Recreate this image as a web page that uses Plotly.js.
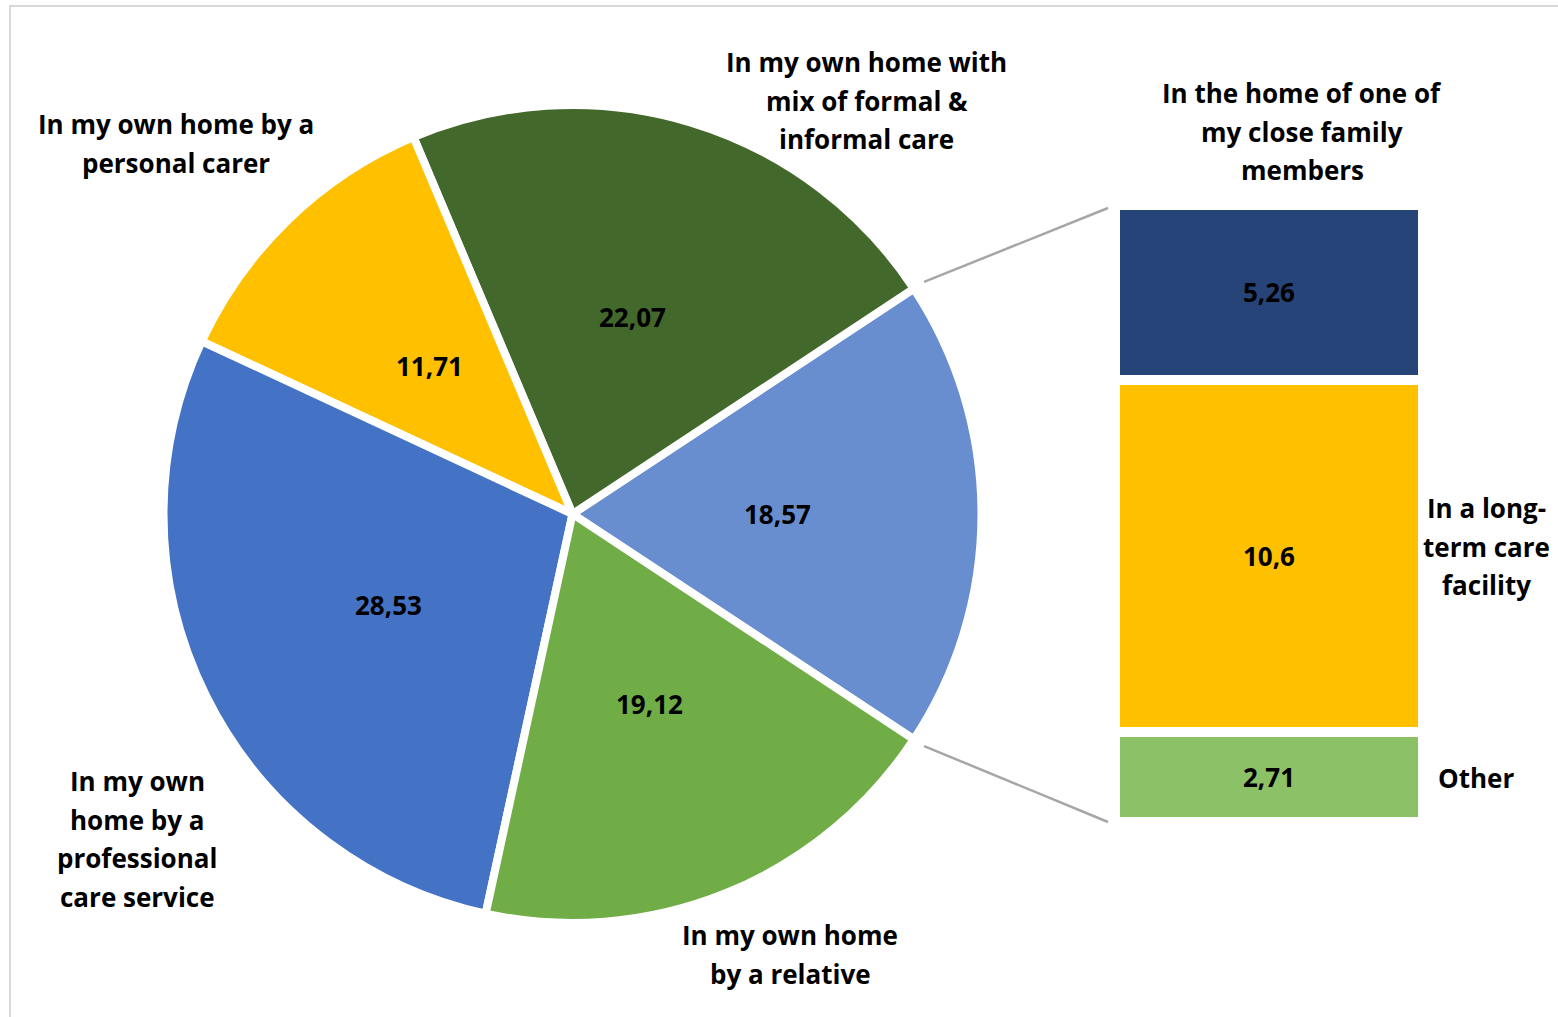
<!DOCTYPE html>
<html>
<head>
<meta charset="utf-8">
<script src="https://cdn.plot.ly/plotly-3.0.1.min.js"></script>
<style>
  html, body { margin: 0; padding: 0; background: #ffffff; }
  #chart { width: 1558px; height: 1017px; }
</style>
</head>
<body>
<div id="chart"></div>
<script>
// ---- Data -------------------------------------------------------------
// Main pie slices, counterclockwise from the upper edge of the split slice
const pieCategories = [
  "In my own home with mix of formal & informal care",
  "In my own home by a personal carer",
  "In my own home by a professional care service",
  "In my own home by a relative"
];
const pieValues = [22.07, 11.71, 28.53, 19.12];

// Breakdown shown in the stacked bar (bottom to top)
const barCategories = [
  "Other",
  "In a long-term care facility",
  "In the home of one of my close family members"
];
const barValues = [2.71, 10.6, 5.26];

// Colours
const pieColors = ["#43682B", "#FFC000", "#4472C4", "#70AD47"];
const splitSliceColor = "#698ED0";
const barColors = ["#8CC168", "#FFC000", "#264478"];

// ---- Derived values ---------------------------------------------------
const splitTotal = Number(barValues.reduce((a, b) => a + b, 0).toFixed(2));
// split slice first: Plotly draws the first slice clockwise of the rotation line
const allSliceValues = [splitTotal].concat(pieValues);
const allSliceColors = [splitSliceColor].concat(pieColors);
const allSliceLabels = ["Other places"].concat(pieCategories);
const grandTotal = allSliceValues.reduce((a, b) => a + b, 0);

const fmt = v => String(Number(v.toFixed(2))).replace(".", ",");

// ---- Geometry ---------------------------------------------------------
const W = 1558, H = 1017;
const PIE_CX = 572.5, PIE_CY = 514, PIE_R = 409;
const BAR_X0 = 1115, BAR_X1 = 1423, BAR_TOP = 205, BAR_BOT = 822;
const FONT = "'Open Sans', 'Noto Sans', sans-serif";
const FONT_SIZE = 26;
const LINE_GAP = 38.5;

const px = x => x / W;
const py = y => 1 - y / H;

// Split slice is centred on 3 o'clock
const halfSplitDeg = splitTotal / grandTotal * 180;
const rotation = 90 - halfSplitDeg;

// ---- Traces -----------------------------------------------------------
const pieTrace = {
  type: "pie",
  labels: allSliceLabels,
  values: allSliceValues,
  sort: false,
  direction: "counterclockwise",
  rotation: rotation,
  marker: { colors: allSliceColors, line: { color: "#ffffff", width: 8 } },
  textinfo: "none",
  hoverinfo: "skip",
  showlegend: false,
  domain: {
    x: [px(PIE_CX - PIE_R), px(PIE_CX + PIE_R)],
    y: [py(PIE_CY + PIE_R), py(PIE_CY - PIE_R)]
  }
};

const barTraces = barValues.map((v, i) => ({
  type: "bar",
  x: [0],
  y: [v],
  width: 1,
  name: barCategories[i],
  marker: { color: barColors[i], line: { color: "#ffffff", width: 10 } },
  text: [fmt(v)],
  textposition: "inside",
  insidetextanchor: "middle",
  textangle: 0,
  textfont: { family: FONT, size: FONT_SIZE, color: "#000000", weight: "bold" },
  hoverinfo: "skip",
  showlegend: false,
  xaxis: "x",
  yaxis: "y"
}));

// ---- Annotations ------------------------------------------------------
const annotations = [];

// Slice values, placed halfway out along each slice's bisector
// (angles in degrees, counterclockwise from 3 o'clock)
let cum = 0;
allSliceValues.forEach((v, i) => {
  let midDeg;
  if (i === 0) {
    midDeg = 0;
  } else {
    midDeg = halfSplitDeg + (cum + v / 2) / grandTotal * 360;
    cum += v;
  }
  const a = midDeg * Math.PI / 180;
  const rr = PIE_R * 0.502;
  annotations.push({
    xref: "paper", yref: "paper",
    x: px(PIE_CX + rr * Math.cos(a)),
    y: py(PIE_CY - rr * Math.sin(a)),
    text: fmt(v),
    showarrow: false, xanchor: "center", yanchor: "middle",
    font: { family: FONT, size: FONT_SIZE, color: "#000000", weight: "bold" }
  });
});

// Category names, one annotation per line
const categoryLabels = [
  { lines: ["In my own home with", "mix of formal &", "informal care"], x: 867, y: 62 },
  { lines: ["In my own home by a", "personal carer"], x: 176, y: 124 },
  { lines: ["In my own", "home by a", "professional", "care service"], x: 137, y: 781 },
  { lines: ["In my own home", "by a relative"], x: 790, y: 935 },
  { lines: ["In the home of one of", "my close family", "members"], x: 1302, y: 93 },
  { lines: ["In a long-", "term care", "facility"], x: 1486, y: 508 },
  { lines: ["Other"], x: 1476, y: 778 }
];
categoryLabels.forEach(lab => {
  lab.lines.forEach((t, i) => {
    annotations.push({
      xref: "paper", yref: "paper",
      x: px(lab.x), y: py(lab.y + i * LINE_GAP),
      text: t, showarrow: false, xanchor: "center", yanchor: "middle",
      font: { family: FONT, size: FONT_SIZE, color: "#000000", weight: "bold" }
    });
  });
});

// ---- Shapes -----------------------------------------------------------
const edgeR = PIE_R * 1.03;
const ha = halfSplitDeg * Math.PI / 180;
const shapes = [
  // chart-area frame
  {
    type: "rect", xref: "paper", yref: "paper",
    x0: px(10), x1: 1.02, y0: py(6), y1: -0.02,
    line: { color: "#D9D9D9", width: 2 }, fillcolor: "rgba(0,0,0,0)", layer: "below"
  },
  // connector lines from the split slice to the bar
  {
    type: "line", xref: "paper", yref: "paper",
    x0: px(PIE_CX + edgeR * Math.cos(ha)), y0: py(PIE_CY - edgeR * Math.sin(ha)),
    x1: px(BAR_X0 - 7), y1: py(BAR_TOP + 3),
    line: { color: "#A6A6A6", width: 2.5 }
  },
  {
    type: "line", xref: "paper", yref: "paper",
    x0: px(PIE_CX + edgeR * Math.cos(ha)), y0: py(PIE_CY + edgeR * Math.sin(ha)),
    x1: px(BAR_X0 - 7), y1: py(BAR_BOT),
    line: { color: "#A6A6A6", width: 2.5 }
  }
];

// ---- Layout -----------------------------------------------------------
const layout = {
  width: W, height: H,
  margin: { l: 0, r: 0, t: 0, b: 0 },
  paper_bgcolor: "#ffffff",
  plot_bgcolor: "rgba(0,0,0,0)",
  barmode: "stack",
  showlegend: false,
  xaxis: {
    domain: [px(BAR_X0), px(BAR_X1)],
    range: [-0.5, 0.5], visible: false, fixedrange: true
  },
  yaxis: {
    domain: [py(BAR_BOT), py(BAR_TOP)],
    range: [0, splitTotal], visible: false, fixedrange: true
  },
  annotations: annotations,
  shapes: shapes,
  font: { family: FONT }
};

Plotly.newPlot("chart", [pieTrace].concat(barTraces), layout, { staticPlot: true, displayModeBar: false });
</script>
</body>
</html>
